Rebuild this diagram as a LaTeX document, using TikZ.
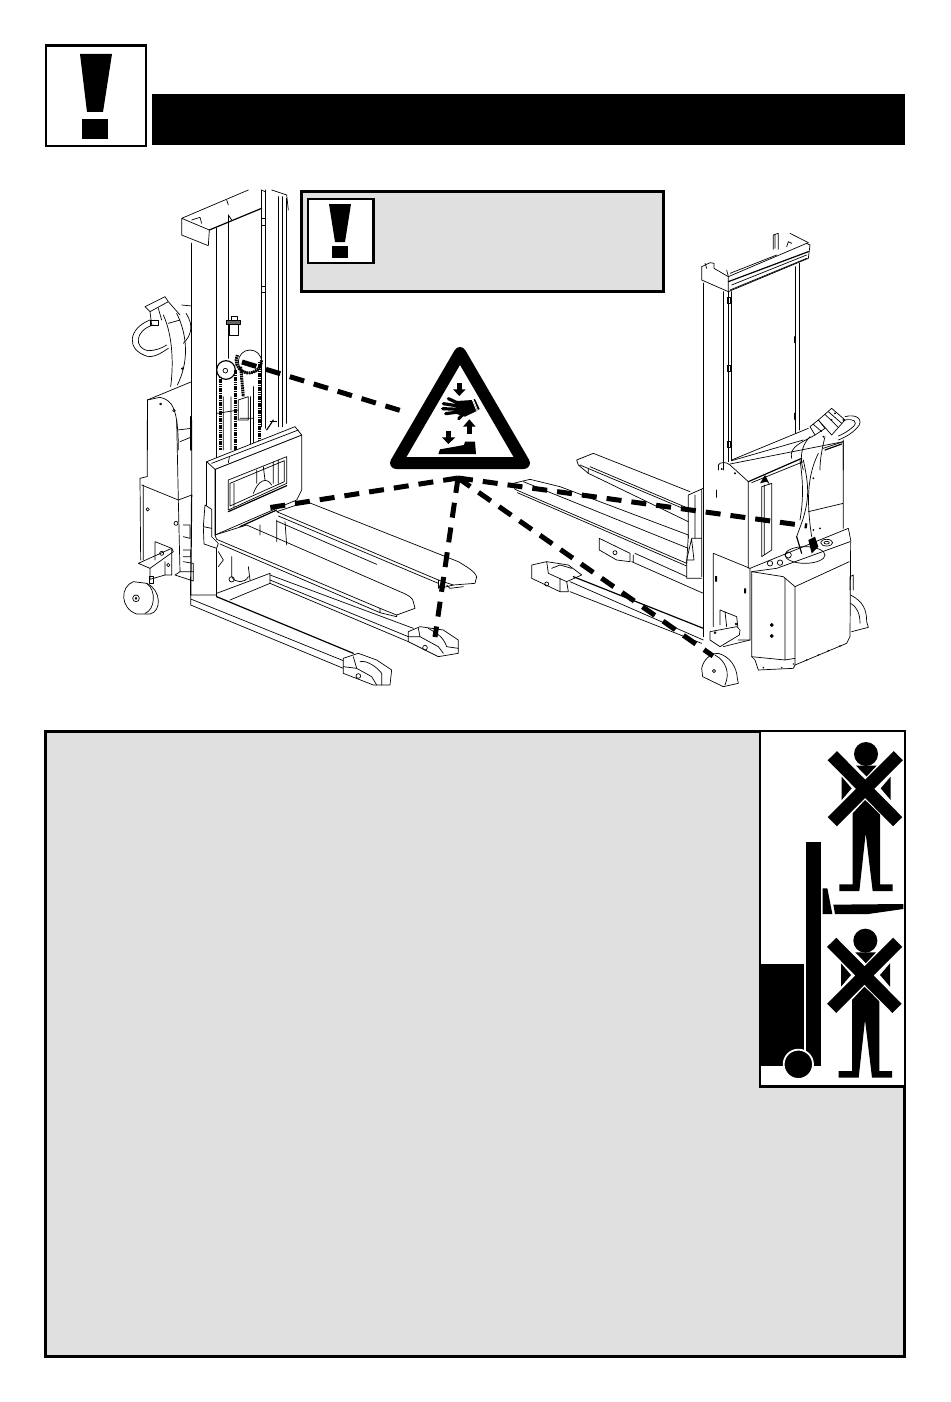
\documentclass[tikz,border=0pt]{standalone}
\definecolor{panelgray}{HTML}{E0E0E0}
\tikzset{
  ln/.style={line width=0.7pt,line join=round,line cap=round},
  hv/.style={line width=1.2pt,line join=round,line cap=round},
  chain/.style={line width=3pt,dash pattern=on 1.6pt off 0.7pt},
  boxthick/.style={draw=black,line width=3pt},
  boxthin/.style={draw=black,line width=2.4pt,fill=white},
  danger/.style={line width=5pt,dash pattern=on 15pt off 10pt},
  zone/.style={shift={#1},scale=1/3}
}
\begin{document}
\begin{tikzpicture}[x=1pt,y=-1pt]
\useasboundingbox (0,0) rectangle (950,1402);
\fill[white] (0,0) rectangle (950,1402);

% ---------- header
\draw[draw=black,line width=2.7pt,fill=white] (46,45.5) rectangle (146,146);
\fill (80,54)--(112,54)--(103,112)--(87,112)--cycle;
\fill (82,119) rectangle (108,139);
\fill (152,94.5) rectangle (905,145);

% ---------- warning box
\draw[boxthick,fill=panelgray] (301.5,191.5) rectangle (663.5,291.5);
\draw[boxthin] (308,199) rectangle (373.5,263);
\fill (329,204)--(351,204)--(345,242)--(335,242)--cycle;
\fill (332,246) rectangle (348,258);

% ---------- big panel
\draw[boxthick,fill=panelgray] (45.5,731.5) rectangle (904.5,1356.5);
\draw[boxthin,fill=white] (760,731) rectangle (905,1086.5);
\begin{scope}[zone={(750,725)}]
  \fill (168,350) rectangle (212,1022);
  \fill (30,718) rectangle (162,1022);
  \fill (218,490)--(232,490)--(247,567)--(218,567)--cycle;
  \fill (250,539)--(460,537)--(460,552)--(355,567)--(255,567)--cycle;
  \draw[white,line width=1.8pt,fill=black] (145,1018) circle (44);
  \foreach \dy/\dx in {0/0,560/-2}{
  \begin{scope}[shift={(\dx,\dy)}]
    \fill (348,87) circle (36);
    \fill (318,122)--(380,122)--(350,155)--cycle;
    \fill (275,155)--(305,190)--(275,225)--cycle;
    \fill (422,155)--(392,190)--(422,225)--cycle;
    \fill (345,225)--(390,265)--(390,478)--(428,478)--(428,498)--(368,498)--(347,325)--(328,498)--(268,498)--(268,478)--(308,478)--(308,265)--cycle;
    \draw[white,line width=15pt] (247,92)--(443,290) (445,92)--(247,290);
    \draw[line width=13pt] (247,92)--(443,290) (445,92)--(247,290);
  \end{scope}}
\end{scope}

% ---------- left truck, upper part
\begin{scope}[zone={(100,180)}]
  \draw[hv] (275,190)--(275,810);
  \draw[hv] (350,145)--(350,810);
  \draw[ln] (245,115)--(445,30) (245,115)--(245,165)--(325,197)--(328,150)--cycle;
  \draw[hv] (328,150)--(485,85);
  \draw[ln] (275,120)--(300,112)--(305,130) (380,60)--(385,75) (385,105)--(395,120);
  \draw[ln] (485,30)--(485,740) (495,30)--(495,745) (535,50)--(535,740) (548,50)--(548,740) (560,55)--(560,730);
  \draw[ln] (485,30)--(495,35) (515,30)--(560,45)--(565,90);
  \draw[ln] (485,115)rectangle(495,135) (485,318)rectangle(495,338);
  \draw[ln] (385,105)--(385,535);
  % small block
  \draw[ln] (388,430) rectangle (415,465);
  \draw[ln,fill=black!60] (380,420) rectangle (422,432);
  \draw[ln] (395,408) rectangle (412,420);
  % sprockets
  \draw[ln,fill=white] (450,545) circle (35);
  \draw[chain] (412,525) arc (205:0:38);
  \draw[chain] (478,545)--(478,810);
  \draw[hv,fill=white] (378,570) circle (28);
  \draw[ln,fill=white] (376,572) circle (7);
  \draw[chain] (360,590)--(360,810);
  \draw[chain] (405,570)--(405,810);
  \draw[chain] (422,560)--(430,650);
  \draw[ln] (370,650)--(370,810) (393,650)--(393,810) (415,660)--(445,650)--(445,720)--(415,720)--cycle;
  \draw[ln] (450,650)--(450,810) (460,620)--(460,810);
  \draw[ln] (352,700)--(415,690) (420,715)--(460,715);
  % handle
  \draw[ln] (135,380)--(195,350)--(205,365)--(150,395)--cycle (150,395)--(155,435) (175,385)--(185,420) (205,365)--(240,405);
  \draw[ln] (150,420) rectangle (175,437);
  \draw[ln] (150,420) .. controls (85,445) and (75,510) .. (145,530) .. controls (170,530) and (190,515) .. (205,505);
  \draw[ln] (160,435) .. controls (105,450) and (100,505) .. (145,512) .. controls (165,512) and (185,505) .. (200,495);
  \draw[ln] (190,405) .. controls (220,470) and (220,560) .. (212,620);
  \draw[ln] (230,400) .. controls (265,470) and (265,550) .. (232,615);
  \draw[ln] (205,430)--(240,420) (245,375)--(275,378) (258,400) .. controls (285,440) and (270,470) .. (250,490);
  \fill (247,566) circle (4);
  % body
  \draw[ln] (142,660)--(275,605);
  \draw[ln] (142,660)--(142,810);
  \draw[ln] (142,660)--(180,652) .. controls (215,660) and (235,680) .. (235,810);
  \draw[ln] (182,672) circle (3) (222,692) circle (4);
  \draw[hv] (272,710)--(272,810);
  % top of carriage behind
  \draw[hv] (500,750)--(520,720);
  \draw[ln] (510,725)--(530,725);
\end{scope}

% ---------- left truck, lower part
\begin{scope}[zone={(100,420)}]
  \draw[ln] (142,0)--(142,170) (230,0)--(235,240) (275,0)--(275,225);
  \draw[ln] (232,30)--(275,25) (240,65)--(272,52);
  \draw[ln] (120,175)--(140,170) (120,175)--(122,420) (130,195)--(130,420);
  \draw[ln] (125,195)--(235,240)--(275,225) (235,240)--(240,455)--(280,455);
  \draw[hv] (275,225)--(272,525);
  \draw[hv] (350,0)--(350,120) (350,385)--(350,530);
  \draw[ln] (143,268) circle (5) (228,310) circle (6);
  \draw[ln] (250,315)--(270,315)--(270,355)--(250,350) (250,390)--(272,390)--(272,410)--(250,410);
  % mount
  \draw[ln] (115,430)--(215,385)--(220,395)--(150,445)--cycle;
  \draw[ln] (165,365)--(215,385) (165,365)--(165,420) (150,445)--(150,478) (195,425)--(195,465)--(150,478) (215,385)--(215,465)--(195,465);
  \draw[ln] (185,400) circle (6) (205,435) circle (5);
  \draw[ln] (240,455)--(225,465)--(280,483)--(280,430)--(250,425);
  % wheel
  \draw[ln,fill=white] (140,490) .. controls (185,510) and (185,575) .. (150,582)--(110,582) .. controls (60,565) and (60,500) .. (100,485)--cycle;
  \draw[ln] (140,490) .. controls (170,510) and (165,570) .. (135,580);
  \draw[ln] (108,535) circle (10) (108,535) circle (3);
  \draw[ln] (148,470) rectangle (160,490);
  % upper fork back
  \draw[ln] (530,275)--(620,245)--(1075,425) .. controls (1100,440) and (1125,455) .. (1130,470)--(1125,490)--(1060,495)--(1015,480)--cycle;
  \draw[ln] (535,288)--(1015,490)--(1020,505)--(1060,495);
  \draw[ln] (1015,480)--(1015,505);
  \draw[ln] (1040,495)--(1050,505)--(1090,500);
  \draw[ln] (530,303)--(830,433);
  % carriage
  \draw[ln,fill=white] (345,148)--(605,45)--(605,210)--(590,240)--(530,265)--(345,345)--cycle;
  \draw[ln,fill=white] (320,125)--(585,20)--(605,45)--(345,148)--cycle;
  \draw[ln] (320,125)--(320,262) (345,148)--(345,345);
  \draw[ln] (335,130)--(595,30);
  \draw[ln] (385,128)--(388,112);
  \draw[ln,fill=white] (385,180)--(560,110)--(560,190)--(385,270)--cycle;
  \draw[ln] (390,190)--(553,122)--(553,185)--(390,258)--cycle;
  \draw[ln] (470,150)--(470,190) (490,140)--(495,180) (520,125)--(520,190) (535,120)--(535,190) (460,220) .. controls (475,180) and (500,170) .. (515,195) (402,190)--(402,260);
  \draw[hv] (385,275)--(560,197);
  \draw[ln,fill=white] (315,255)--(335,268)--(335,350)--(355,370)--(350,385)--(312,372)--(310,320)--cycle;
  \draw[ln] (310,320)--(335,325);
  % lower fork
  \draw[ln,fill=white] (345,345)--(440,315)--(900,515) .. controls (925,525) and (940,535) .. (940,545)--(945,565)--(890,585)--(840,565)--(350,358)--cycle;
  \draw[ln] (360,372)--(840,578)--(890,590)--(890,585) (840,565)--(840,578);
  \draw[hv] (420,320)--(530,270);
  % frame and motor
  \draw[ln] (350,520)--(510,460)--(510,490)--(390,540);
  \draw[ln] (480,315)--(480,345) (530,300)--(530,365) (555,305)--(560,375);
  \draw[ln] (355,395)--(370,420)--(355,440) (395,410)--(395,470) (445,440)--(450,480) (395,470) .. controls (405,490) and (435,490) .. (445,470);
  \draw[ln] (395,478) circle (8);
  % left leg
  \draw[hv] (350,530)--(760,700);
  \draw[ln] (272,525)--(350,525) (272,525)--(272,555)--(730,745) (272,537)--(730,722);
  % right leg
  \draw[ln] (510,465)--(940,625) (510,480)--(925,650) (510,490)--(925,665);
  % head 1
  \draw[ln,fill=white] (730,715)--(775,700)--(830,720)--(875,750)--(870,795)--(820,795)--(730,760)--cycle;
  \draw[ln] (760,710)--(770,745)--(815,770)--(830,795) (780,725) .. controls (800,720) and (830,740) .. (845,760)--(845,795) (730,740)--(770,745);
  \draw[ln] (775,768) circle (7);
  % head 2
  \draw[ln,fill=white] (925,635)--(960,620)--(1030,630)--(1075,660)--(1075,700)--(1015,710)--(925,665)--cycle;
  \draw[ln] (955,625)--(960,650)--(1015,680)--(1030,700) (985,625) .. controls (1010,640) and (1030,650) .. (1040,680)--(1075,685) (925,650)--(960,650);
  \draw[ln] (975,683) circle (7);
\end{scope}

% ---------- right truck, upper part
\begin{scope}[zone={(510,220)}]
  \draw[hv] (580,190)--(580,750);
  \draw[ln] (640,215)--(640,750) (655,215)--(655,725) (665,215)--(665,720) (855,140)--(855,640) (868,130)--(868,630);
  \draw[ln] (652,232) rectangle (662,250) (652,435) rectangle (662,455) (652,663) rectangle (662,683);
  \draw[hv] (855,350)--(855,368) (855,580)--(855,598);
  \draw[ln,fill=white] (575,140)--(600,128)--(612,130)--(612,145)--(655,170)--(890,70)--(900,75)--(895,115)--(655,215)--(575,180)--cycle;
  \draw[ln] (655,170)--(655,215) (665,195)--(890,105) (660,210)--(890,115) (650,150)--(655,170) (660,160)--(800,105);
  \draw[hv] (655,185)--(895,95);
  \draw[ln] (790,88)--(790,45)--(805,40)--(805,88) (840,40)--(895,68) (795,45)--(795,85) (830,80)--(835,65)--(845,70);
  \draw[ln] (585,130)--(590,145);
  \draw[ln] (665,720)--(895,625);
  % handle
  \draw[ln,fill=white] (925,600)--(965,565)--(1005,600)--(965,645)--cycle;
  \draw[ln] (945,583)--(985,622) (955,575)--(995,610);
  \draw[ln,fill=white] (900,620)--(925,600)--(945,625)--(915,645)--cycle;
  \draw[ln] (910,613)--(935,635);
  \draw[ln] (1005,590) .. controls (1040,580) and (1065,600) .. (1040,625) .. controls (1025,640) and (1010,650) .. (985,660);
  \draw[ln] (1005,600) .. controls (1030,595) and (1045,605) .. (1030,620) .. controls (1015,632) and (1005,640) .. (985,648);
  \draw[ln] (915,645) .. controls (880,665) and (835,680) .. (845,715) (900,650) .. controls (870,680) and (870,720) .. (880,750) (945,650) .. controls (935,690) and (930,720) .. (930,750);
  \draw[ln] (940,685)--(1000,665)--(1000,750);
  \draw[hv] (945,690)--(995,672);
  \foreach \p in {(940,650),(975,580),(1000,600),(965,600)} \fill \p circle (3);
\end{scope}

% ---------- right truck, lower part
\begin{scope}[zone={(510,440)}]
  % rear fork
  \draw[ln] (200,60)--(250,40)--(540,155) (200,60)--(205,75)--(235,100)--(535,245) (210,75)--(535,212) (235,85)--(235,100);
  \draw[ln] (240,80)--(535,205);
  % near fork
  \draw[ln,fill=white] (10,130)--(60,118)--(150,140)--(535,285)--(530,370)--(15,148)--cycle;
  \draw[ln] (22,158)--(530,378) (40,125)--(535,325);
  % carriage
  \draw[ln] (535,165)--(580,145) (535,165)--(535,295) (555,165)--(555,295) (575,150)--(575,410);
  \draw[ln] (530,360)--(545,295)--(575,295) (530,360)--(530,415)--(575,415) (545,300)--(552,360)--(530,360);
  % box
  \draw[ln,fill=white] (268,295)--(360,340)--(360,365)--(320,360)--(268,330)--cycle;
  \draw[ln] (315,338) circle (6);
  \draw[ln] (375,340)--(530,410) (365,365)--(580,460) (370,345)--(370,365);
  % leg
  \draw[ln] (65,375)--(110,365)--(175,375)--(215,405)--(170,425)--(175,455)--(150,455)--(65,415)--cycle;
  \draw[ln] (150,415)--(150,455) (110,365)--(115,400)--(170,425) (125,385)--(150,375)--(185,385);
  \draw[ln] (110,432) circle (6);
  \draw[hv] (190,410)--(580,565);
  \draw[ln] (180,425)--(580,600) (180,455)--(575,610);
  % mast base plate
  \draw[ln] (630,510)--(680,530)--(685,575) (630,510)--(630,555) (645,515)--(650,560);
  \draw[ln,fill=white] (600,575)--(680,560)--(690,570)--(688,585)--(630,620)--(600,600)--cycle;
  \draw[ln] (640,620)--(720,600);
  \draw[ln] (615,578) circle (3) (678,552) circle (3);
  % plate and upper panel
  \draw[hv] (580,0)--(580,590);
  \draw[ln] (640,0)--(640,65) (665,0)--(665,62);
  \draw[ln] (625,75) .. controls (630,65) and (650,65) .. (660,75)--(715,125);
  \draw[ln] (665,62)--(880,0);
  \draw[ln] (625,75)--(625,90);
  \draw[hv] (715,125)--(875,55);
  \draw[ln] (725,128)--(880,65);
  \draw[ln] (715,125)--(715,385) (660,72)--(1000,5);
  \draw[ln] (755,140)--(785,130)--(785,330)--(755,350)--cycle (763,135)--(763,345);
  \fill (750,130)--(765,105)--(780,135)--(770,125)--cycle;
  \draw[ln] (635,87) circle (2) (675,100) circle (2);
  \draw[ln] (620,150)--(620,172);
  % lower plate
  \draw[ln] (610,340)--(720,385)--(720,600) (610,340)--(610,560) (685,600)--(720,600);
  \fill (615,408) rectangle (621,425) (702,445) rectangle (708,460);
  % battery
  \draw[ln] (725,395)--(820,410)--(855,440)--(855,675)--(850,685)--(745,690)--(735,660)--(725,650)--cycle;
  \draw[ln] (825,415)--(825,660)--(855,655) (725,650)--(825,660);
  \draw[ln] (855,440)--(1018,365) (720,385)--(1015,265)--(1022,300)--(1020,590)--(1010,610)--(855,675);
  \draw[ln] (725,395)--(800,385)--(1020,305);
  \draw[ln] (785,555) circle (5) (785,555) circle (2) (785,588) circle (5) (785,588) circle (2);
  \foreach \p in {(760,683),(815,683),(850,672),(890,660),(925,645),(955,632),(990,618)} \fill \p circle (2.5);
  % console and tiller
  \draw[ln] (885,345) ellipse (60 and 25);
  \draw[ln] (950,308) ellipse (18 and 10) (950,308) ellipse (8 and 4);
  \draw[ln] (780,370) circle (8) (810,368) circle (8) (835,345) circle (9);
  \fill (895,300)--(915,290)--(925,320)--(905,340)--cycle;
  \draw[hv] (860,290)--(875,340);
  \draw[ln] (880,60) .. controls (895,130) and (900,170) .. (878,240)--(860,290);
  \draw[ln] (925,40) .. controls (890,110) and (890,190) .. (905,290);
  \draw[ln] (870,60) .. controls (880,130) and (880,180) .. (870,240);
  \draw[ln] (1000,0)--(1000,265) (895,215)--(1000,190);
  \foreach \p in {(910,115),(910,270),(930,265)} \fill \p circle (3);
  % far wheel
  \draw[ln] (1020,450)--(1020,410)--(1030,405)--(1030,450) (1022,465) .. controls (1060,485) and (1070,510) .. (1070,545)--(1075,562)--(1025,575);
  \draw[ln] (1022,490) .. controls (1040,500) and (1050,520) .. (1050,550);
  % front wheel
  \draw[ln,fill=white] (575,685) .. controls (580,660) and (600,640) .. (625,640) .. controls (660,650) and (680,680) .. (682,715)--(685,730)--(640,740)--(578,710)--cycle;
  \draw[ln] (615,645) .. controls (650,665) and (660,700) .. (645,735);
  \draw[ln] (612,693) circle (5);
\end{scope}

% ---------- connectors
\coordinate (hub) at (458,478);
\coordinate (chainend) at (242,362);
\coordinate (signedge) at (402,411);
\coordinate (carriageend) at (267,508);
\coordinate (legend) at (435,637);
\coordinate (tillerend) at (807,526);
\coordinate (wheelend) at (713,656);
\draw[danger] (chainend)--(signedge);
\draw[danger] (hub)--(carriageend);
\draw[danger] (hub)--(legend);
\draw[danger] (hub)--(tillerend);
\draw[danger] (hub)--(wheelend);

% ---------- warning triangle
\draw[line width=12pt,line join=round,fill=white] (460,353)--(524,463)--(396,463)--cycle;
\begin{scope}[zone={(380,340)}]
  % upper arrow
  \fill (231,128) rectangle (245,150);
  \fill (219,148)--(257,148)--(238,168)--cycle;
  % hand
  \draw[line width=3.2pt,line cap=round] (205,176)--(240,192) (190,191)--(235,198) (188,206)--(235,208) (197,221)--(235,216) (236,236)--(256,216);
  \fill (230,183)--(278,180)--(292,212)--(255,230)--(230,222)--cycle;
  \draw[white,line width=0.8pt] (277,180)--(290,212);
  \fill (281,178)--(285,177)--(299,207)--(294,210)--cycle;
  % lower right arrow
  \fill (261,258) rectangle (275,282);
  \fill (249,260)--(287,260)--(268,238)--cycle;
  % lower left arrow
  \fill (198,272) rectangle (212,294);
  \fill (186,292)--(226,292)--(205,312)--cycle;
  % boot
  \fill (175,342)--(180,328)--(225,320)--(252,315)--(255,305)--(285,305)--(288,342)--cycle;
\end{scope}
\end{tikzpicture}
\end{document}
